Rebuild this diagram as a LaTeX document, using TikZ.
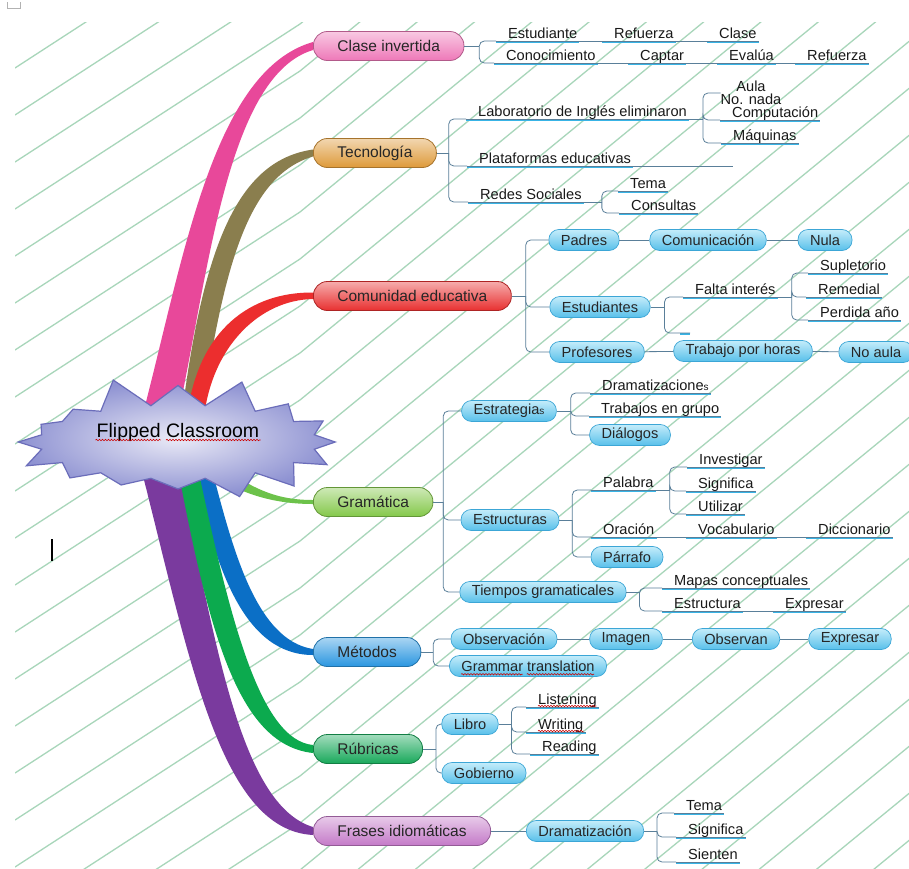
\documentclass[tikz,border=0pt]{standalone}
\usepackage{fontspec}
\setmainfont{Liberation Sans}
\usetikzlibrary{shapes.symbols,decorations.pathmorphing}

\definecolor{paperln}{RGB}{168,214,186}
\definecolor{linkc}{HTML}{5A7F99}
\definecolor{ulc}{HTML}{38B4E6}
% ribbons
\definecolor{pinkbr}{HTML}{E8489A}
\definecolor{olivebr}{HTML}{8A7E4E}
\definecolor{redbr}{HTML}{EC2E2E}
\definecolor{lgreenbr}{HTML}{6CC24A}
\definecolor{bluebr}{HTML}{0B6FC6}
\definecolor{greenbr}{HTML}{0CAA4E}
\definecolor{purplebr}{HTML}{7A3A9E}
% pills
\definecolor{pinkpill}{HTML}{EE78B8}
\definecolor{goldpill}{HTML}{DE9A3A}
\definecolor{redpill}{HTML}{E83030}
\definecolor{greenpill}{HTML}{84C84A}
\definecolor{bluepill}{HTML}{2A96E0}
\definecolor{rubpill}{HTML}{18A85A}
\definecolor{purppill}{HTML}{C47AC8}
\definecolor{subtop}{HTML}{C4ECFA}
\definecolor{subbot}{HTML}{58C0EA}
\definecolor{subedge}{HTML}{3CA6D6}
\definecolor{starin}{HTML}{EAEAF6}
\definecolor{starout}{HTML}{8E92D2}
\definecolor{starline}{HTML}{6B6DBA}

\pgfdeclarelayer{paper}
\pgfdeclarelayer{ribbon}
\pgfsetlayers{paper,ribbon,main}

\newcommand{\lffont}{\fontsize{14.6}{17}\selectfont}
\newcommand{\brfont}{\fontsize{15.5}{18}\selectfont}
\newcommand{\rootfont}{\fontsize{19.5}{22}\selectfont}
\newcommand{\smalls}{{\fontsize{10}{10}\selectfont s}}

\tikzset{
  branch/.style={rectangle, rounded corners=14pt, anchor=west, minimum height=29pt,
    inner xsep=24pt, inner ysep=0pt, draw=#1!75!black, line width=0.8pt,
    top color=#1!40!white, bottom color=#1, font=\brfont, text=black!85},
  subpill/.style={rectangle, rounded corners=10pt, minimum height=21pt, inner xsep=12pt,
    inner ysep=0pt, draw=subedge, line width=0.7pt, top color=subtop, bottom color=subbot,
    font=\lffont, text=black!85},
  leaf/.style={anchor=south west, inner xsep=0pt, inner ysep=2pt, text depth=0pt,
    font=\lffont, text=black!90, execute at begin node={\hspace*{12pt}},
    execute at end node={\hspace*{2pt}}},
  link/.style={draw=linkc, line width=0.8pt, rounded corners=5pt},
  uline/.style={draw=ulc, line width=2.4pt},
  spell/.style={draw=red!80!black, line width=0.6pt, decorate,
    decoration={snake, amplitude=0.7pt, segment length=3pt}},
  paperline/.style={draw=paperln, line width=1.3pt},
}

\begin{document}
\begin{tikzpicture}[x=1pt, y=-1pt]
\useasboundingbox (0,0) rectangle (909,868);

%===== paper =====%
\begin{pgfonlayer}{paper}
  \fill[white] (0,0) rectangle (909,868);
  \begin{scope}
    \clip (15,22) rectangle (909,868);
    \foreach \k in {0,...,33}
      \draw[paperline] (15,{21+47*\k}) -- ++(285,-185) -- ++(640,-525);
  \end{scope}
  \draw[gray!60, line width=0.8pt] (7,2) -- (7,8) -- (20,8) -- (20,2);
  \draw[black, line width=1.1pt] (52,539) -- (52,561);
\end{pgfonlayer}

%===== centre =====%
\node[starburst, starburst points=16, starburst point height=32pt, random starburst=5,
  minimum width=342pt, minimum height=138pt, draw=starline, line width=1.2pt,
  inner color=starin, outer color=starout, text height=5pt, text depth=15pt,
  font=\rootfont] (root) at (178,442) {Flipped Classroom};
\draw[spell] ([shift={(-82.5,-2)}]root.center) -- ++(65,0);
\draw[spell] ([shift={(-12,-2)}]root.center) -- ++(94.5,0);

%===== main branches =====%
\node[branch=pinkpill] (ci) at (313,46) {Clase invertida};
\node[branch=goldpill] (tec) at (313,153) {Tecnología};
\node[branch=redpill] (com) at (313,296) {Comunidad educativa};
\node[branch=greenpill] (gra) at (313,502) {Gramática};
\node[branch=bluepill] (met) at (313,652) {Métodos};
\node[branch=rubpill] (rub) at (313,749) {Rúbricas};
\node[branch=purppill] (fra) at (313,831) {Frases idiomáticas};

\begin{pgfonlayer}{ribbon}
  \fill[pinkbr] ([shift={(-33,-36)}]root.center) .. controls (185,250) and (215,70) .. ([yshift=4pt]ci.west)
    -- ([yshift=-4pt]ci.west) .. controls (230,75) and (210,260) .. ([shift={(2,-36)}]root.center) -- cycle;
  \fill[olivebr] ([shift={(5,-36)}]root.center) .. controls (205,240) and (240,160) .. ([yshift=3.5pt]tec.west)
    -- ([yshift=-3.5pt]tec.west) .. controls (250,175) and (225,260) .. ([shift={(25,-36)}]root.center) -- cycle;
  \fill[redbr] ([shift={(10,-32)}]root.center) .. controls (200,330) and (250,292) .. ([yshift=3.5pt]com.west)
    -- ([yshift=-3pt]com.west) .. controls (260,300) and (215,345) .. ([shift={(27,-32)}]root.center) -- cycle;
  \fill[lgreenbr] ([shift={(37,22)}]root.center) .. controls (250,485) and (270,500) .. ([yshift=2pt]gra.west)
    -- ([yshift=-2pt]gra.west) .. controls (270,504) and (240,492) .. ([shift={(35,34)}]root.center) -- cycle;
  \fill[bluebr] ([shift={(17,28)}]root.center) .. controls (215,570) and (245,655) .. ([yshift=-3pt]met.west)
    -- ([yshift=3pt]met.west) .. controls (255,640) and (232,545) .. ([shift={(34,28)}]root.center) -- cycle;
  \fill[purplebr] ([shift={(-38,22)}]root.center) .. controls (190,660) and (220,830) .. ([yshift=-4pt]fra.west)
    -- ([yshift=4pt]fra.west) .. controls (240,805) and (215,640) .. ([shift={(0,22)}]root.center) -- cycle;
  \fill[greenbr] ([shift={(-1,22)}]root.center) .. controls (210,640) and (240,745) .. ([yshift=-4pt]rub.west)
    -- ([yshift=4pt]rub.west) .. controls (260,740) and (230,620) .. ([shift={(19,22)}]root.center) -- cycle;
\end{pgfonlayer}

%===== Clase invertida =====%
\node[leaf] (ci-est) at (496,41) {Estudiante};
\node[leaf] (ci-ref) at (602,41) {Refuerza};
\node[leaf] (ci-cla) at (707,41) {Clase};
\node[leaf] (ci-con) at (494,63) {Conocimiento};
\node[leaf] (ci-cap) at (628,63) {Captar};
\node[leaf] (ci-eva) at (717,63) {Evalúa};
\node[leaf] (ci-ref2) at (795,63) {Refuerza};

%===== Tecnologia =====%
\node[leaf] (tec-lab) at (466,119) {Laboratorio de Inglés eliminaron};
\node[font=\lffont, align=center, inner sep=0pt, text=black!90] (tec-aula) at (751,93) {Aula\\[-4pt]No. nada};
\node[leaf] (tec-comp) at (720,120) {Computación};
\node[leaf] (tec-maq) at (721,143) {Máquinas};
\node[leaf] (tec-pla) at (467,166) {Plataformas educativas};
\node[leaf] (tec-red) at (468,202) {Redes Sociales};
\node[leaf] (tec-tem) at (618,191) {Tema};
\node[leaf] (tec-con) at (619,213) {Consultas};

%===== Comunidad educativa =====%
\node[subpill] (com-pad) at (584,240) {Padres};
\node[subpill] (com-comu) at (708,240) {Comunicación};
\node[subpill] (com-nula) at (825,240) {Nula};
\node[subpill] (com-est) at (600,307) {Estudiantes};
\node[leaf] (com-fal) at (683,297) {Falta interés};
\coordinate (com-vac) at (690,333);
\node[leaf] (com-sup) at (808,273) {Supletorio};
\node[leaf] (com-rem) at (806,297) {Remedial};
\node[leaf] (com-per) at (808,320) {Perdida año};
\node[subpill] (com-pro) at (597,352) {Profesores};
\node[subpill] (com-tra) at (743,351) {Trabajo por horas};
\node[subpill] (com-noa) at (876,352) {No aula};

%===== Gramatica =====%
\node[subpill] (gra-est) at (509,411) {Estrategia\smalls};
\node[leaf] (gra-dra) at (590,393) {Dramatizacione\smalls};
\node[leaf] (gra-tra) at (589,416) {Trabajos en grupo};
\node[subpill] (gra-dia) at (630,435) {Diálogos};
\node[subpill] (gra-estr) at (510,520) {Estructuras};
\node[leaf] (gra-pal) at (591,490) {Palabra};
\node[leaf] (gra-inv) at (687,467) {Investigar};
\node[leaf] (gra-sig) at (686,491) {Significa};
\node[leaf] (gra-uti) at (686,514) {Utilizar};
\node[leaf] (gra-ora) at (591,537) {Oración};
\node[leaf] (gra-voc) at (686,537) {Vocabulario};
\node[leaf] (gra-dic) at (806,537) {Diccionario};
\node[subpill] (gra-par) at (627,557) {Párrafo};
\node[subpill] (gra-tie) at (543,592) {Tiempos gramaticales};
\node[leaf] (gra-map) at (662,588) {Mapas conceptuales};
\node[leaf] (gra-estu) at (662,611) {Estructura};
\node[leaf] (gra-exp) at (773,611) {Expresar};

%===== Metodos =====%
\node[subpill] (met-obs) at (504,639) {Observación};
\node[subpill] (met-ima) at (626,639) {Imagen};
\node[subpill] (met-obv) at (736,639) {Observan};
\node[subpill] (met-exp) at (850,639) {Expresar};
\node[subpill] (met-gra) at (528,666) {Grammar translation};
\draw[spell] ([shift={(12,3)}]met-gra.base west) -- ++(61.6,0);
\draw[spell] ([shift={(77.7,3)}]met-gra.base west) -- ++(67.3,0);

%===== Rubricas =====%
\node[subpill] (rub-lib) at (470,724) {Libro};
\node[leaf] (rub-lis) at (526,707) {Listening};
\node[leaf] (rub-wri) at (526,732) {Writing};
\node[leaf] (rub-rea) at (530,754) {Reading};
\node[subpill] (rub-gob) at (484,773) {Gobierno};

%===== Frases idiomaticas =====%
\node[subpill] (fra-dra) at (585,831) {Dramatización};
\node[leaf] (fra-tem) at (674,813) {Tema};
\node[leaf] (fra-sig) at (676,837) {Significa};
\node[leaf] (fra-sie) at (676,862) {Sienten};

% underlines of the plain topics
\foreach \n in {ci-est, ci-ref, ci-cla, ci-con, ci-cap, ci-eva, ci-ref2,
    tec-lab, tec-comp, tec-maq, tec-pla, tec-red, tec-tem, tec-con,
    com-fal, com-sup, com-rem, com-per,
    gra-dra, gra-tra, gra-pal, gra-inv, gra-sig, gra-uti, gra-ora, gra-voc, gra-dic,
    gra-map, gra-estu, gra-exp, rub-lis, rub-wri, rub-rea, fra-tem, fra-sig, fra-sie} {
  \draw[uline] ([yshift=-1pt]\n.south west) -- ([yshift=-1pt]\n.south east);
  \draw[link] (\n.south west) -- (\n.south east);
}
\draw[uline] ([xshift=-10pt,yshift=-1pt]com-vac) -- ([yshift=-1pt]com-vac);
\draw[spell] ([shift={(12,-1)}]rub-lis.south west) -- ++(58.4,0);
\draw[spell] ([shift={(12,-1)}]rub-wri.south west) -- ++(45.4,0);

% junctions
\coordinate (ci-j) at ([xshift=15pt]ci.east);
\coordinate (tec-j) at ([xshift=12pt]tec.east);
\coordinate (lab-j) at ([xshift=14pt]tec-lab.south east);
\coordinate (red-j) at ([xshift=18pt]tec-red.south east);
\coordinate (com-j) at ([xshift=14pt]com.east);
\coordinate (est-j) at ([xshift=14pt]com-est.east);
\coordinate (fal-j) at ([xshift=14pt]com-fal.south east);
\coordinate (gra-j) at ([xshift=10pt]gra.east);
\coordinate (str-j) at ([xshift=14pt]gra-est.east);
\coordinate (ctr-j) at ([xshift=13pt]gra-estr.east);
\coordinate (pal-j) at ([xshift=14pt]gra-pal.south east);
\coordinate (tie-j) at ([xshift=13pt]gra-tie.east);
\coordinate (met-j) at ([xshift=12pt]met.east);
\coordinate (rub-j) at ([xshift=13pt]rub.east);
\coordinate (lib-j) at ([xshift=13pt]rub-lib.east);
\coordinate (dra-j) at ([xshift=13pt]fra-dra.east);

% stems into the junctions
\foreach \a/\j in {ci/ci-j, tec/tec-j, com/com-j, com-est/est-j, gra/gra-j, gra-est/str-j,
    gra-estr/ctr-j, gra-tie/tie-j, met/met-j, rub/rub-j, rub-lib/lib-j, fra-dra/dra-j}
  \draw[link] (\a.east) -- (\j);
\foreach \a/\j in {tec-lab/lab-j, tec-red/red-j, com-fal/fal-j, gra-pal/pal-j}
  \draw[link] (\a.south east) -- (\j);

% brackets to underlined topics
\foreach \j/\c in {ci-j/ci-est, ci-j/ci-con, tec-j/tec-lab, tec-j/tec-pla, tec-j/tec-red,
    lab-j/tec-comp, lab-j/tec-maq, red-j/tec-tem, red-j/tec-con, est-j/com-fal,
    fal-j/com-sup, fal-j/com-rem, fal-j/com-per, str-j/gra-dra, str-j/gra-tra,
    ctr-j/gra-pal, ctr-j/gra-ora, pal-j/gra-inv, pal-j/gra-sig, pal-j/gra-uti,
    tie-j/gra-map, tie-j/gra-estu, lib-j/rub-lis, lib-j/rub-wri, lib-j/rub-rea,
    dra-j/fra-tem, dra-j/fra-sig, dra-j/fra-sie}
  \draw[link] (\j) |- (\c.south west);

% brackets to pills
\foreach \j/\c in {lab-j/tec-aula, com-j/com-pad, com-j/com-est, com-j/com-pro,
    gra-j/gra-est, gra-j/gra-estr, gra-j/gra-tie, str-j/gra-dia, ctr-j/gra-par,
    met-j/met-obs, met-j/met-gra, rub-j/rub-lib, rub-j/rub-gob}
  \draw[link] (\j) |- (\c.west);
\draw[link] (est-j) |- (com-vac);

% chains
\foreach \a/\b in {ci-est/ci-ref, ci-ref/ci-cla, ci-con/ci-cap, ci-cap/ci-eva, ci-eva/ci-ref2,
    gra-ora/gra-voc, gra-voc/gra-dic, gra-estu/gra-exp}
  \draw[link] (\a.south east) -- (\b.south west);
\foreach \a/\b in {com-pad/com-comu, com-comu/com-nula, com-pro/com-tra, com-tra/com-noa,
    met-obs/met-ima, met-ima/met-obv, met-obv/met-exp, fra/fra-dra}
  \draw[link] (\a) -- (\b);
\draw[link] (tec-pla.south east) -- ++(100,0);

\end{tikzpicture}
\end{document}
